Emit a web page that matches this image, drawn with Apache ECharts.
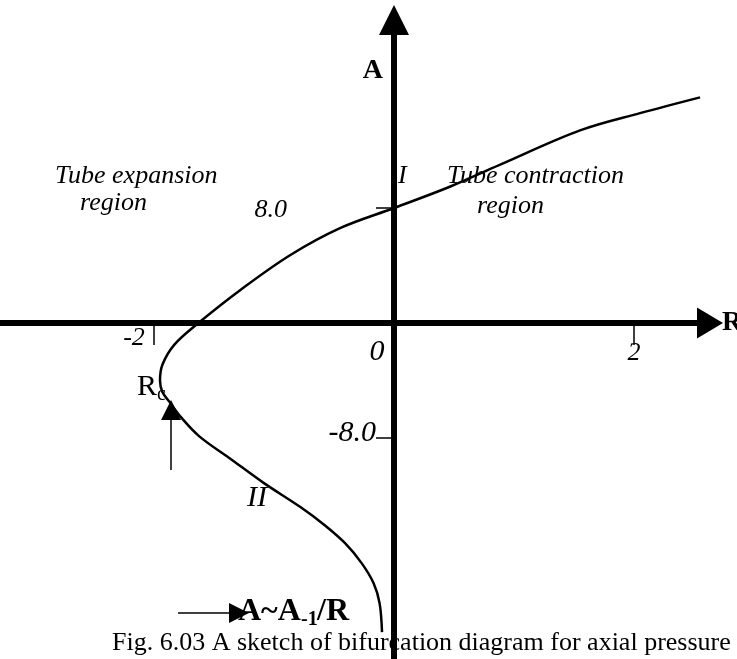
<!DOCTYPE html>
<html lang="en">
<head>
<meta charset="UTF-8">
<title>Bifurcation sketch</title>
<script src="https://cdn.jsdelivr.net/npm/echarts@6/dist/echarts.min.js"></script>
<style>
    html, body { margin: 0; padding: 0; background: #fff; }
</style>
</head>
<body>
<div id="chart_div" style="width: 737px; height: 659px;"></div>
<script type="text/javascript">
// points of the sketched curve, R (horizontal) and A (vertical)
var curveR = [2.55, 2.05, 1.55, 0.88, 0.47, 0, -0.45, -0.87, -1.28, -1.63, -1.83, -1.93, -1.95,
              -1.93, -1.87, -1.77, -1.62, -1.37, -1.09, -0.78, -0.58, -0.41, -0.27, -0.17, -0.12, -0.10];
var curveA = [15.7, 14.6, 13.4, 11.0, 9.5, 8.0, 6.6, 4.7, 2.3, 0, -1.5, -2.9, -4.0,
              -4.8, -5.5, -6.6, -7.9, -9.4, -11.1, -12.8, -14.05, -15.3, -16.7, -18.1, -19.5, -21.5];
var xTicks = [-2, 2];
var xLabels = [-2, 0, 2];
var yTicks = [-8, 8];

var serif = '"Liberation Serif", "Times New Roman", serif';

var data = [];
for (var i = 0; i < curveR.length; i++) {
    data.push([curveR[i], curveA[i]]);
}

function txt(text, left, top, size, italic, bold) {
    return {
        type: 'text', left: left, top: top, silent: true,
        style: {
            text: text, fill: '#000', fontFamily: serif, fontSize: size,
            fontStyle: italic ? 'italic' : 'normal',
            fontWeight: bold ? 'bold' : 'normal'
        }
    };
}

function rs(size, pad) {
    return {fontFamily: serif, fontStyle: 'italic', fontSize: size, color: '#000', padding: pad};
}

var chart = echarts.init(document.getElementById('chart_div'));
var options = {
    animation: false,
    backgroundColor: '#fff',
    grid: {left: 0, right: 27, top: 20, bottom: 0, containLabel: false, outerBoundsMode: 'none'},
    xAxis: {
        type: 'value', min: -3.2833, max: 2.633,
        position: 'bottom', offset: -336,   // sit the axis on A = 0
        name: 'R', nameLocation: 'end', nameGap: 12,
        nameTextStyle: {fontFamily: serif, fontWeight: 'bold', fontSize: 28, color: '#000',
                        verticalAlign: 'middle', padding: [0, 0, 20, 0]},
        axisLine: {show: true, onZero: false, symbol: ['none', 'triangle'], symbolSize: [31, 26],
                   lineStyle: {color: '#000', width: 6}},
        axisTick: {show: true, customValues: xTicks, length: 22, lineStyle: {color: '#000', width: 1.5}},
        axisLabel: {
            show: true, customValues: xLabels, margin: 0, hideOverlap: false,
            formatter: function (v) {
                var n = Number(v);
                if (n === 0) return '{z|0}';
                return n < 0 ? '{n|' + n + '}' : '{p|' + n + '}';
            },
            rich: {
                n: rs(26, [2, 40, 0, 0]),
                z: rs(30, [14, 34, 0, 0]),
                p: rs(26, [17, 0, 0, 0])
            }
        },
        splitLine: {show: false}
    },
    yAxis: {
        type: 'value', min: -23.37, max: 21.08,
        position: 'left', offset: -394,     // sit the axis on R = 0
        name: 'A', nameLocation: 'end', nameGap: -65,
        nameTextStyle: {fontFamily: serif, fontWeight: 'bold', fontSize: 28, color: '#000',
                        align: 'right', verticalAlign: 'bottom', padding: [0, 11, 0, 0]},
        axisLine: {show: true, onZero: false, symbol: ['none', 'triangle'], symbolSize: [30, 30],
                   lineStyle: {color: '#000', width: 6}},
        axisTick: {show: true, customValues: yTicks, length: 18, lineStyle: {color: '#000', width: 1.5}},
        axisLabel: {
            show: true, customValues: yTicks, margin: 4, hideOverlap: false,
            formatter: function (v) {
                var n = Number(v);
                return n > 0 ? '{p|' + n.toFixed(1) + '}' : '{n|' + n.toFixed(1) + '}';
            },
            rich: {
                p: rs(26, [4, 103, 0, 0]),
                n: rs(30, [0, 14, 10, 0])
            }
        },
        splitLine: {show: false}
    },
    series: [{
        type: 'line',
        data: data,
        smooth: 0.35,
        showSymbol: false,
        lineStyle: {color: '#000', width: 2.5},
        markLine: {
            silent: true,
            symbol: ['none', 'triangle'],
            symbolSize: 20,
            label: {show: false},
            lineStyle: {color: '#000', width: 1.5, type: 'solid'},
            data: [
                [{coord: [-1.858, -10.23]}, {coord: [-1.858, -6.05]}],
                [{coord: [-1.8, -20.17]}, {coord: [-1.292, -20.17]}]
            ]
        }
    }],
    graphic: [
        txt('Tube expansion', 55, 163, 26, true),
        txt('region', 80, 190, 26, true),
        txt('I', 398, 163, 26, true),
        txt('Tube contraction', 447, 163, 26, true),
        txt('region', 477, 193, 26, true),
        txt('II', 247, 483, 30, true),
        txt('R', 137, 372, 30),
        txt('c', 157, 385, 20),
        txt('A~A', 238, 596, 32, false, true),
        txt('-1', 301, 610, 20, false, true),
        txt('/R', 317, 596, 32, false, true),
        txt('Fig. 6.03 A sketch of bifurcation diagram for axial pressure', 112, 630, 26)
    ]
};
chart.setOption(options);
</script>
</body>
</html>
